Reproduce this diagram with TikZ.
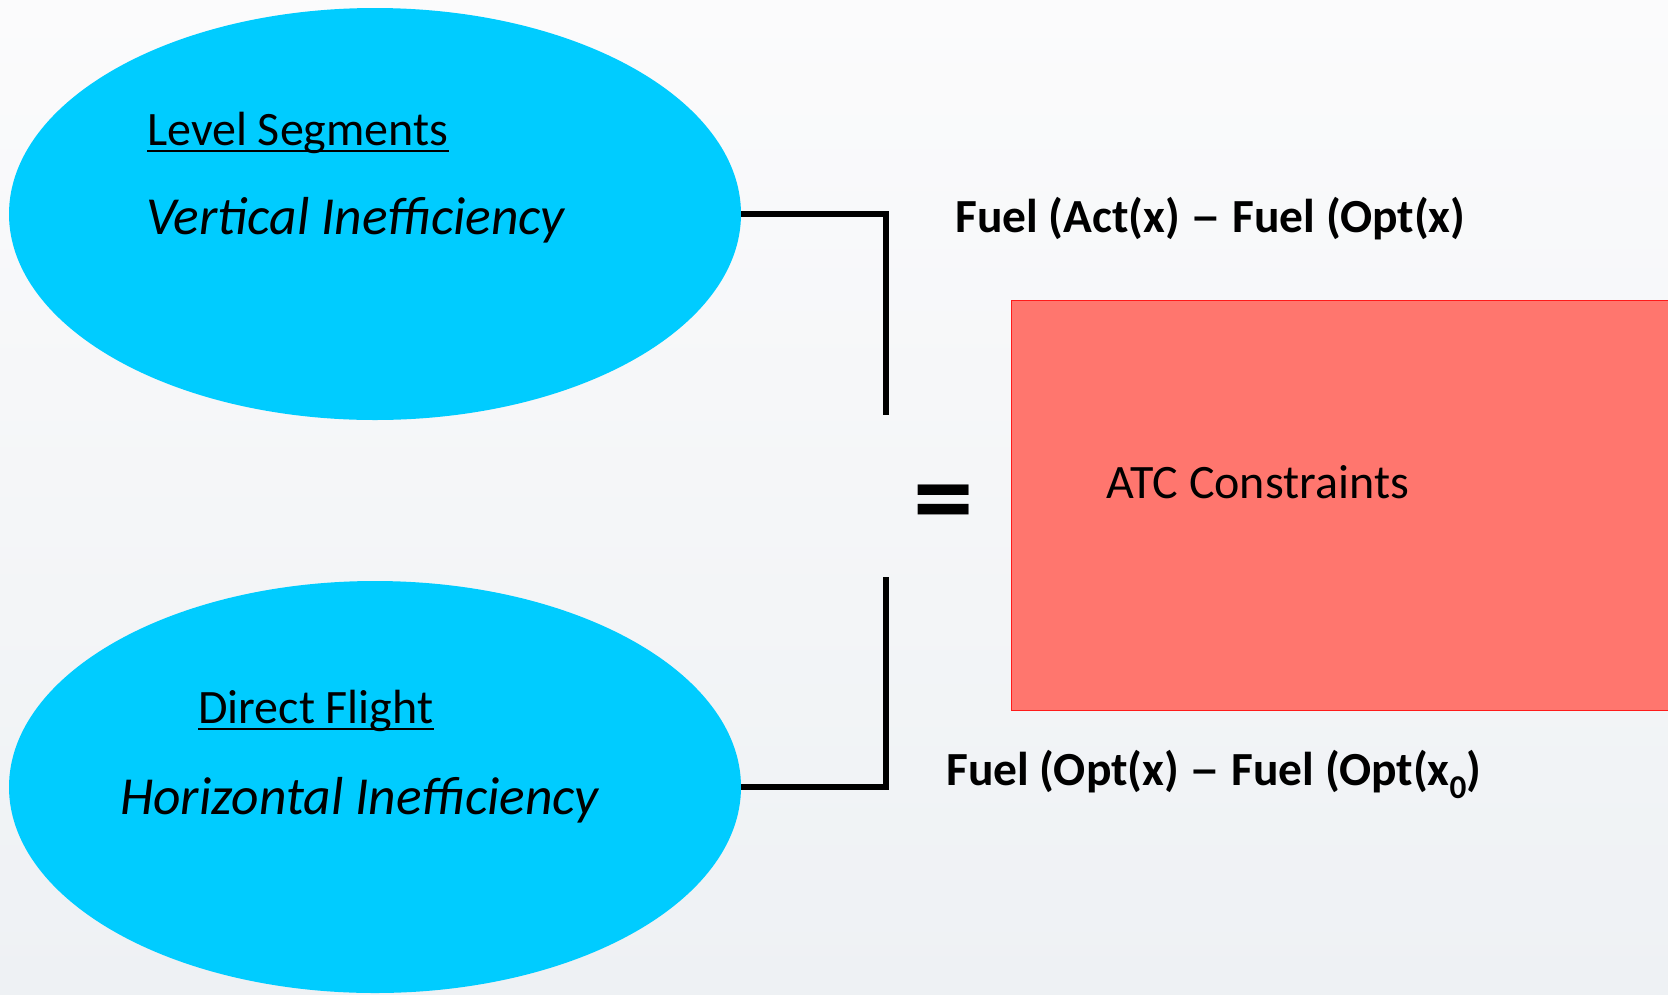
\documentclass[tikz,border=0pt]{standalone}
\usepackage{fontspec}
\usepackage{graphicx}
\setmainfont{Carlito}
\usetikzlibrary{shapes.geometric}
\definecolor{skyfill}{HTML}{00CCFF}
\definecolor{salmonfill}{HTML}{FF766E}
\definecolor{boxedge}{HTML}{FF1A1A}
\definecolor{bgtop}{HTML}{FBFBFC}
\definecolor{bgbottom}{HTML}{EEF1F4}
% a slightly wider dash for the formulas
\newcommand{\widedash}{\scalebox{1.3}[1]{–}}
\tikzset{
  blob/.style={ellipse, fill=skyfill, draw=none, minimum width=732pt, minimum height=412pt, inner sep=0pt},
  txt/.style={inner sep=0pt, anchor=base west},
  regtxt/.style={txt, font=\fontsize{48}{57}\selectfont},
  itxt/.style={txt, font=\fontsize{53.5}{63}\selectfont\itshape},
  btxt/.style={txt, font=\fontsize{47.5}{56}\selectfont\bfseries},
  bracket/.style={line width=5.5pt, line join=miter, black},
  uline/.style={line width=2.8pt, black},
}
\begin{document}
\begin{tikzpicture}[x=1pt, y=-1pt]
  \useasboundingbox (0,0) rectangle (1668,994);
  \clip (0,0) rectangle (1668,994);
  % background wash
  \shade[top color=bgtop, bottom color=bgbottom] (0,0) rectangle (1668,994);

  % the two inefficiency ellipses
  \node[blob] (vert) at (375,214) {};
  \node[blob] (horz) at (375,787) {};

  % ATC constraint block (runs off the right edge)
  \node[draw=boxedge, fill=salmonfill, line width=1.2pt, minimum width=700pt, minimum height=410pt,
        inner sep=0pt, anchor=north west] (atc) at (1011,300) {};

  % texts in the ellipses
  \node[regtxt] (lvl) at (147,145) {Level Segments};
  \node[itxt] (vin) at (146,234) {Vertical Inefficiency};
  \node[regtxt] (dir) at (198,723) {Direct Flight};
  \node[itxt] (hin) at (120,814) {Horizontal Inefficiency};
  \draw[uline] ([yshift=-6pt]lvl.base west) -- ([yshift=-6pt]lvl.base east);
  \draw[uline] ([yshift=-6pt]dir.base west) -- ([yshift=-6pt]dir.base east);

  % formulas and block label
  \node[btxt] (fact) at (955,232) {Fuel (Act(x) \widedash{} Fuel (Opt(x)};
  \node[btxt] (fopt) at (946,785) {Fuel (Opt(x) \widedash{} Fuel (Opt(x\textsubscript{0})};
  \node[regtxt] (atcl) at (1106,498) {ATC Constraints};

  % equals sign
  \node[inner sep=0pt, font=\fontsize{110}{120}\selectfont\bfseries] (eq) at (944,511) {\scalebox{1.1}[1.05]{=}};

  % brackets joining the ellipses
  \coordinate (topend) at (886,415);
  \coordinate (botend) at (886,577);
  \draw[bracket] (vert.east) -| (topend);
  \draw[bracket] (horz.east) -| (botend);
\end{tikzpicture}
\end{document}
